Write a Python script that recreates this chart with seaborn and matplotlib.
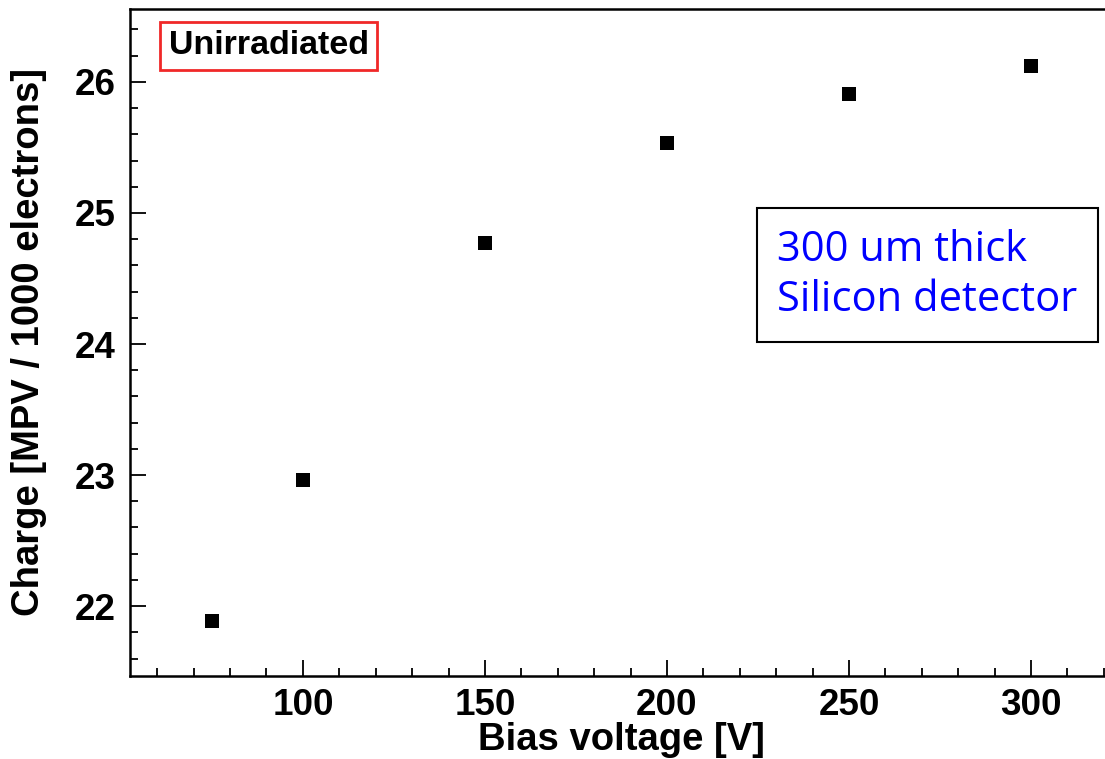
import numpy as np
import matplotlib
matplotlib.use("Agg")
import matplotlib.pyplot as plt
from matplotlib.ticker import MultipleLocator
import seaborn as sns
import pandas as pd

# -- data
bias_voltage = [75, 100, 150, 200, 250, 300]
charge = [21.89, 22.96, 24.77, 25.53, 25.91, 26.12]

df = pd.DataFrame({"bias": bias_voltage, "charge": charge})

sns.set_style("white")
plt.rcParams["font.family"] = ["Liberation Sans", "DejaVu Sans"]
plt.rcParams["text.color"] = "black"
plt.rcParams["axes.labelcolor"] = "black"

fig = plt.figure(figsize=(11.05, 7.59), dpi=100)
ax = fig.add_axes([0.1176, 0.1094, 0.8896, 0.8794])

sns.scatterplot(data=df, x="bias", y="charge", marker="s", s=90,
                color="black", edgecolor="black", linewidth=0, ax=ax)

ax.set_xlim(52.5, 322.5)
ax.set_ylim(21.467, 26.56)

ax.xaxis.set_major_locator(MultipleLocator(50))
ax.xaxis.set_minor_locator(MultipleLocator(10))
ax.yaxis.set_major_locator(MultipleLocator(1))
ax.yaxis.set_minor_locator(MultipleLocator(0.2))

ax.tick_params(which="both", direction="in", width=1.3, colors="black",
               bottom=True, left=True, top=False, right=False)
ax.tick_params(which="major", length=11.5, labelsize=26.5)
ax.tick_params(axis="x", which="major", pad=9)
ax.tick_params(axis="y", which="major", pad=10)
ax.tick_params(which="minor", length=5.8)
for lab in ax.get_xticklabels() + ax.get_yticklabels():
    lab.set_fontweight("bold")

for side in ["left", "bottom", "top"]:
    ax.spines[side].set_linewidth(1.8)
    ax.spines[side].set_color("black")
ax.spines["right"].set_visible(False)

ax.set_xlabel("Bias voltage [V]", fontsize=27.5, fontweight="bold")
ax.set_ylabel("Charge [MPV / 1000 electrons]", fontsize=27.5, fontweight="bold")
ax.xaxis.label.set_va("center")
ax.yaxis.label.set_va("center")
ax.xaxis.set_label_coords(0.5, -0.096)
ax.yaxis.set_label_coords(-0.103, 0.5)

# -- annotations
fig.text(0.1525, 0.9395, "Unirradiated", fontsize=24.5, fontweight="bold",
         ha="left", va="center",
         bbox=dict(boxstyle="square,pad=0.25", fc="white", ec="#f02828", lw=2))

fig.text(0.7035, 0.638, "300 um thick\nSilicon detector", fontsize=30,
         color="#0000ff", family=["Open Sans", "DejaVu Sans"], ha="left", va="center",
         linespacing=1.25,
         bbox=dict(boxstyle="square,pad=0.5", fc="white", ec="black", lw=1.5))

fig.savefig("out.png", dpi=100)
